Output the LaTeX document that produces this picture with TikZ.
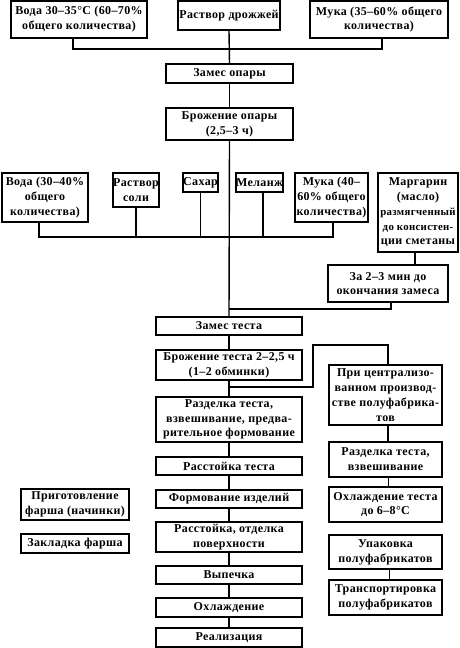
\documentclass[tikz,border=0pt]{standalone}
\usepackage{fontspec}
\setmainfont[LetterSpace=3]{Liberation Serif}
\usetikzlibrary{calc}
\tikzset{
  box/.style={draw, line width=1.5pt, inner sep=0pt, align=center,
    font=\fontsize{12}{14.8}\selectfont\bfseries},
  conn/.style={line width=1.4pt}
}
\newcommand\bx[6]{%
  \pgfmathsetmacro\bw{#4-#2}\pgfmathsetmacro\bh{#5-#3}%
  \pgfmathsetmacro\cxx{(#2+#4)/2}\pgfmathsetmacro\cyy{(#3+#5)/2}%
  \node[box, minimum width=\bw pt, minimum height=\bh pt] (#1) at (\cxx,\cyy) {#6};}
\newcommand\sm[1]{{\fontsize{10.8}{14.8}\selectfont #1}}
\begin{document}
\begin{tikzpicture}[x=1pt,y=-1pt]
\useasboundingbox[fill=white] (0,0) rectangle (460,648);
% top row
\bx{wa}{11}{1}{147}{38}{Вода 30–35°C (60–70\%\\общего количества)}
\bx{dr}{178}{1}{280}{30}{Раствор дрожжей}
\bx{mu}{310}{1}{448}{38}{Мука (35–60\% общего\\количества)}
\bx{zo}{166}{64}{293}{83}{Замес опары}
\bx{bo}{166}{108}{293}{140}{Брожение опары\\(2,5–3 ч)}
% second row
\bx{wb}{2}{173}{88}{222}{Вода (30–40\%\\общего\\количества)}
\bx{rs}{113}{173}{159}{207}{Раствор\\соли}
\bx{sa}{183}{173}{218}{192}{Сахар}
\bx{me}{236}{173}{283}{192}{Меланж}
\bx{mk}{295}{173}{368}{222}{Мука (40–\\60\% общего\\количества)}
\bx{ma}{378}{173}{458}{252}{Маргарин\\(масло)\\\sm{размягченный}\\\sm{до консистен-}\\ции сметаны}
\bx{za}{328}{265}{448}{302}{За 2–3 мин до\\окончания замеса}
% main column
\bx{zt}{156}{317}{302}{335}{Замес теста}
\bx{bt}{156}{350}{302}{380}{Брожение теста 2–2,5 ч\\(1–2 обминки)}
\bx{ra}{156}{397}{302}{442}{Разделка теста,\\взвешивание, предва-\\рительное формование}
\bx{rt}{156}{457}{302}{475}{Расстойка теста}
\bx{fo}{156}{490}{302}{508}{Формование изделий}
\bx{ro}{156}{522}{302}{552}{Расстойка, отделка\\поверхности}
\bx{vy}{156}{566}{302}{584}{Выпечка}
\bx{ox}{156}{598}{302}{617}{Охлаждение}
\bx{re}{156}{628}{302}{647}{Реализация}
% left boxes
\bx{pf}{21}{489}{129}{520}{Приготовление\\фарша (начинки)}
\bx{zf}{21}{534}{129}{553}{Закладка фарша}
% right column
\bx{pc}{329}{365}{442}{425}{При централизо-\\ванном производ-\\стве полуфабрика-\\тов}
\bx{rb}{329}{442}{442}{477}{Разделка теста,\\взвешивание}
\bx{oc}{329}{487}{442}{522}{Охлаждение теста\\до 6–8°C}
\bx{up}{329}{535}{442}{569}{Упаковка\\полуфабрикатов}
\bx{tr}{329}{580}{442}{615}{Транспортировка\\полуфабрикатов}
% coordinates
\coordinate (b1) at (229,49);
\coordinate (b2) at (229,237);
\coordinate (b3) at (229,309);
\coordinate (b4) at (229,387);
\coordinate (k1) at (313,345);
% connectors top
\draw[conn] ([xshift=-6pt]wa.south) |- (b1) -| ([xshift=3pt]mu.south);
\draw[conn] (dr.south) -- (zo.north);
\draw[conn] (zo.south) -- (bo.north);
\draw[conn] (bo.south) -- (zt.north);
% second bus
\draw[conn] ([xshift=-6pt]wb.south) |- (b2) -| ([xshift=1.5pt]mk.south);
\draw[conn] (rs.south) -- (rs.south |- b2);
\draw[conn] (sa.south) -- (sa.south |- b2);
\draw[conn] ([xshift=3.5pt]me.south) -- ([xshift=3.5pt]me.south |- b2);
\draw[conn] ([xshift=-3pt]ma.south) -- ([xshift=-3pt]ma.south |- za.north);
\draw[conn] ([xshift=3pt]za.south) |- (b3);
% main chain
\draw[conn] (zt.south) -- (bt.north);
\draw[conn] (bt.south) -- (ra.north);
\draw[conn] (ra.south) -- (rt.north);
\draw[conn] (rt.south) -- (fo.north);
\draw[conn] (fo.south) -- (ro.north);
\draw[conn] (ro.south) -- (vy.north);
\draw[conn] (vy.south) -- (ox.north);
\draw[conn] (ox.south) -- (re.north);
% branch
\draw[conn] (b4) -| (k1) -| ([xshift=2.5pt]pc.north);
\draw[conn] ([xshift=2.5pt]pc.south) -- ([xshift=2.5pt]rb.north);
\draw[conn] ([xshift=3pt]rb.south) -- ([xshift=3pt]oc.north);
\draw[conn] ([xshift=4pt]up.south) -- ([xshift=4pt]tr.north);
\end{tikzpicture}
\end{document}
